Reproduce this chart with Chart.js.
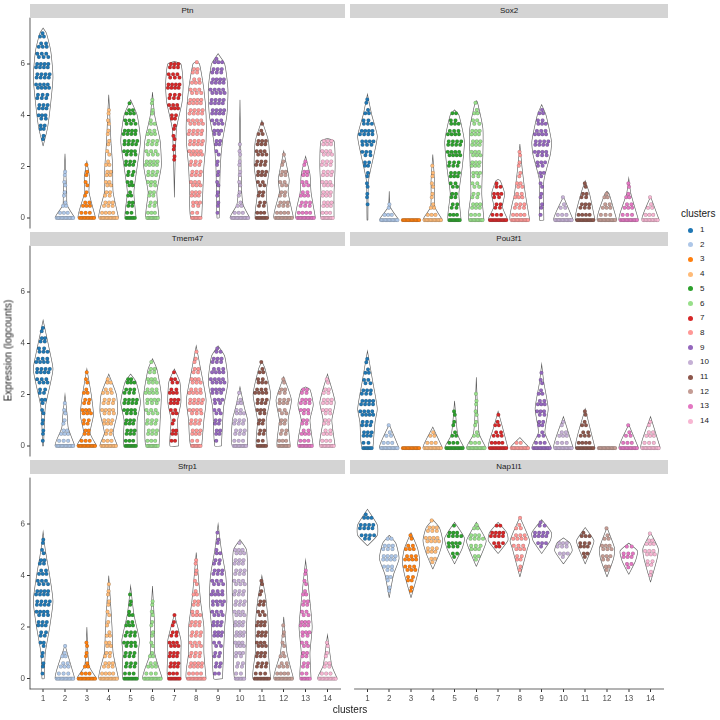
<!DOCTYPE html>
<html><head><meta charset="utf-8">
<script src="https://cdn.jsdelivr.net/npm/chart.js@4"></script>
<style>
body{margin:0;width:720px;height:720px;background:#fff;font-family:"Liberation Sans",Arial,sans-serif;position:relative;overflow:hidden}
canvas{position:absolute}
.strip{position:absolute;background:#d4d4d4;height:14px;font-size:8px;line-height:14px;text-align:center;color:#1a1a1a;z-index:2}
.lg{position:absolute;font-size:8px;color:#1a1a1a}
</style></head><body>
<script>
const clusters=['1','2','3','4','5','6','7','8','9','10','11','12','13','14'];
const colors=['#1f77b4','#aec7e8','#ff7f0e','#ffbb78','#2ca02c','#98df8a','#d62728','#ff9896','#9467bd','#c5b0d5','#8c564b','#c49c94','#e377c2','#f7b6d2'];
const yTicks=[0,2,4,6];
const genes=['Ptn','Sox2','Tmem47','Pou3f1','Sfrp1','Nap1l1'];
// violin profiles: per cluster list of [expression, half-width]
const ptn=[[[2.8,0],[3.5,.2],[4.5,.35],[5.5,.45],[6.5,.35],[7.2,.15],[7.4,0]],[[0,.45],[.5,.1],[1,.08],[2.5,0]],[[0,.4],[1,.1],[1.6,.12],[2.2,0]],[[0,.45],[1,.2],[2,.18],[3,.1],[4,.05],[4.8,0]],[[0,.25],[1,.15],[2,.3],[3,.45],[4,.3],[4.6,0]],[[0,.3],[1,.2],[2,.4],[3,.35],[4,.1],[4.9,0]],[[.8,0],[2,.03],[3.5,.1],[4.5,.35],[5.2,.4],[6,.3],[6.1,0]],[[0,.25],[1,.3],[2,.35],[3,.45],[4,.45],[5,.35],[6,.15],[6.1,0]],[[0,.05],[2,.1],[3,.2],[4,.4],[5,.45],[6,.3],[6.4,0]],[[0,.45],[.5,.15],[1,.08],[2,.05],[3.5,.02],[4.6,0]],[[0,.3],[1,.2],[2,.35],[3,.3],[3.8,0]],[[0,.45],[1,.2],[1.5,.25],[2.6,0]],[[0,.45],[1,.25],[1.7,.2],[2.4,0]],[[0,.3],[1,.3],[2,.35],[3,.3],[3.1,0]]];
const sox2=[[[0,.02],[1.5,.05],[2.5,.3],[3.2,.45],[4,.2],[4.8,0]],[[0,.45],[.5,.05],[1.1,0]],[[0,.45],[.03,0]],[[0,.45],[.5,.1],[1.5,.08],[2.5,0]],[[0,.3],[1,.2],[2,.35],[3,.45],[4,.2],[4.2,0]],[[0,.35],[1,.25],[2.5,.3],[3.5,.3],[4.5,.05],[4.55,0]],[[0,.45],[.5,.2],[1,.3],[1.5,.1],[1.55,0]],[[0,.45],[1,.25],[2,.1],[2.9,0]],[[0,.1],[1.5,.1],[2.5,.4],[3,.45],[4,.2],[4.4,0]],[[0,.45],[.9,0]],[[0,.45],[1,.2],[1.5,0]],[[0,.45],[1,.1],[1.1,0]],[[0,.45],[1,.1],[1.6,0]],[[0,.4],[.9,0]]];
const tmem47=[[[0,.02],[1.5,.1],[2.5,.35],[3,.45],[3.5,.35],[4.5,.1],[4.9,0]],[[0,.45],[.7,.15],[1.2,.1],[2,0]],[[0,.45],[.5,.15],[1.2,.3],[2,.2],[3,0]],[[0,.4],[.5,.2],[1.3,.4],[2,.35],[2.8,0]],[[0,.3],[1,.3],[1.7,.45],[2.5,.25],[2.8,0]],[[0,.3],[1,.35],[2,.4],[3,.2],[3.4,0]],[[0,.2],[1,.15],[1.7,.3],[2.5,.25],[3,0]],[[0,.25],[1,.35],[1.8,.45],[3,.2],[3.9,0]],[[0,.15],[1.5,.25],[2.5,.45],[3.5,.3],[3.9,0]],[[0,.35],[1,.35],[1.5,.2],[2.3,0]],[[0,.25],[1,.2],[2,.4],[3,.15],[3.3,0]],[[0,.3],[1,.2],[1.8,.35],[2.7,0]],[[0,.35],[1,.2],[1.6,.35],[2.2,.2],[2.3,0]],[[0,.35],[1,.2],[1.7,.35],[2.8,0]]];
const pou3f1=[[[0,.25],[1,.35],[1.5,.45],[2.5,.25],[3.7,0]],[[0,.45],[.9,0]],[[0,.45],[.03,0]],[[0,.45],[.8,0]],[[0,.45],[.5,.15],[1.8,0]],[[0,.45],[.5,.15],[1,.08],[2.7,0]],[[0,.45],[.8,.2],[1.4,0]],[[0,.45],[.4,0]],[[0,.45],[.6,.15],[1.5,.3],[2.5,.1],[3.2,0]],[[0,.45],[1.2,0]],[[0,.45],[1.5,0]],[[0,.45],[.03,0]],[[0,.45],[.9,0]],[[0,.45],[1.2,0]]];
const sfrp1=[[[0,.05],[1,.1],[2,.3],[3,.45],[4,.3],[5,.1],[5.7,0]],[[0,.45],[1.3,0]],[[0,.45],[.5,.1],[2,0]],[[0,.45],[1,.2],[2,.15],[3,.08],[4,0]],[[0,.35],[1,.35],[1.5,.4],[2.5,.15],[3.6,0]],[[0,.45],[1,.1],[2,.1],[3.6,0]],[[0,.3],[1,.3],[1.5,.3],[2.5,0]],[[0,.45],[1,.35],[2,.35],[3,.2],[4.9,0]],[[0,.2],[2,.3],[3,.4],[4,.35],[5,.15],[6,0]],[[0,.25],[2,.3],[3,.35],[4,.35],[5,.3],[5.4,0]],[[0,.4],[1,.3],[2,.3],[3,.2],[4,0]],[[0,.45],[1,.15],[2.4,0]],[[0,.25],[1,.2],[2,.3],[3,.2],[4.6,0]],[[0,.45],[.5,.2],[1.7,0]]];
const nap1l1=[[[5.1,0],[5.5,.45],[5.9,.45],[6.5,0]],[[3.1,0],[4,.2],[4.6,.45],[5.2,.3],[5.5,0]],[[3.1,0],[4,.3],[4.5,.4],[5,.3],[5.6,0]],[[4.2,0],[4.8,.3],[5.3,.45],[5.8,.3],[6.1,0]],[[4.4,0],[5,.35],[5.4,.45],[6,0]],[[4.3,0],[5,.35],[5.3,.45],[6,0]],[[4.8,0],[5.3,.45],[5.6,.4],[6,0]],[[3.9,0],[5,.35],[5.3,.45],[6.2,0]],[[4.8,0],[5.3,.4],[5.6,.45],[6.1,0]],[[4.4,0],[4.9,.4],[5.2,.3],[5.4,0]],[[4.4,0],[5,.3],[5.3,.4],[5.8,0]],[[3.9,0],[4.6,.3],[5,.35],[5.8,0]],[[4,0],[4.5,.3],[4.9,.4],[5.2,0]],[[3.7,0],[4.6,.3],[5,.35],[5.6,0]]];
const profiles=[ptn,sox2,tmem47,pou3f1,sfrp1,nap1l1];

function widthAt(p,y){for(let i=0;i<p.length-1;i++){if(y>=p[i][0]&&y<=p[i+1][0]){const t=(y-p[i][0])/(p[i+1][0]-p[i][0]||1);return p[i][1]+t*(p[i+1][1]-p[i][1]);}}return 0;}
function build(prof){
  const ds=[];
  prof.forEach((p,ci)=>{
    const c=ci+1;
    const outline=[];
    p.forEach(k=>outline.push({x:c+k[1],y:k[0]}));
    for(let i=p.length-1;i>=0;i--)outline.push({x:c-p[i][1],y:p[i][0]});
    outline.push({x:c+p[0][1],y:p[0][0]});
    ds.push({data:outline,showLine:true,borderColor:'#555',borderWidth:0.6,pointRadius:0,tension:0.2,fill:false,order:2});
    const pts=[];const y0=p[0][0],y1=p[p.length-1][0];
    if(y0===0&&p[0][1]>0.2){const w=p[0][1];const n=Math.round(w/0.035);for(let i=0;i<n;i++)pts.push({x:c+w*0.9*(2*((i+0.5)/n)-1),y:0});}
    let row=0;
    for(let y=(y0===0?0.2:y0);y<=y1+1e-9;y+=0.2,row++){
      const w=widthAt(p,y);if(w<0.03)continue;
      const n=Math.max(1,Math.round(w/0.11));
      const off=(row%3)/3;
      for(let i=0;i<n;i++){pts.push({x:c+w*0.85*(2*((i+0.2+off*0.6)/n)-1),y:y+(row%2)*0.07});}
    }
    ds.push({data:pts,pointRadius:1.8,pointBackgroundColor:colors[ci],pointBorderColor:'rgba(50,50,50,0.45)',pointBorderWidth:0.4,showLine:false,order:1});
  });
  return ds;
}
const panels=[[0,4],[1,4],[0,232],[1,232],[0,460],[1,460]];
panels.forEach((pp,gi)=>{
  const [col,top]=pp;const left=col===0;const bottom=gi>=4;
  const s=document.createElement('div');s.className='strip';
  s.style.left=(left?30:350)+'px';s.style.top=top+'px';s.style.width=(left?315:318)+'px';s.textContent=genes[gi];document.body.appendChild(s);
  const cv=document.createElement('canvas');
  const cl=left?0:350,cw=left?345:318,ch=bottom?240:224;
  cv.style.left=cl+'px';cv.style.top=(top+14-(bottom?3:7))+'px';cv.style.width=cw+'px';cv.style.height=ch+'px';
  cv.width=cw;cv.height=ch;document.body.appendChild(cv);
  new Chart(cv,{type:'scatter',data:{datasets:build(profiles[gi])},
   options:{responsive:false,animation:false,devicePixelRatio:2,layout:{padding:0},
    plugins:{legend:{display:false},tooltip:{enabled:false}},
    scales:{
     x:{type:'linear',min:0.4,max:14.6,display:bottom,afterFit:s=>{if(bottom)s.height=22},
        afterBuildTicks:s=>{s.ticks=clusters.map((c,i)=>({value:i+1}))},
        ticks:{callback:(v)=>clusters[v-1],font:{size:8,family:'Liberation Sans'},color:'#4d4d4d',padding:2,maxRotation:0,autoSkip:false},
        grid:{display:true,drawOnChartArea:false,tickLength:3,color:'#333'},border:{color:'#333',width:0.8}},
     y:{min:-0.4,max:7.8,display:left,afterFit:s=>{if(left)s.width=30},
        afterBuildTicks:s=>{s.ticks=yTicks.map(v=>({value:v}))},
        ticks:{font:{size:8,family:'Liberation Sans'},color:'#4d4d4d',padding:2},
        grid:{display:true,drawOnChartArea:false,tickLength:3,color:'#333'},border:{color:'#333',width:0.8}}
    }}});
});
const yt=document.createElement('div');yt.className='lg';yt.textContent='Expression (logcounts)';
yt.style.cssText+='font-size:10px;left:-47px;top:345px;width:110px;text-align:center;transform:rotate(-90deg)';document.body.appendChild(yt);
const xt=document.createElement('div');xt.className='lg';xt.textContent='clusters';
xt.style.cssText+='font-size:10px;left:300px;top:704px;width:100px;text-align:center';document.body.appendChild(xt);
const lt=document.createElement('div');lt.className='lg';lt.textContent='clusters';lt.style.cssText+='font-size:10px;left:681px;top:208px';document.body.appendChild(lt);
clusters.forEach((c,i)=>{
  const y=230+i*14.7;
  const d=document.createElement('div');d.style.cssText=`position:absolute;left:688px;top:${y-2.5}px;width:5px;height:5px;border-radius:50%;background:${colors[i]}`;document.body.appendChild(d);
  const t=document.createElement('div');t.className='lg';t.textContent=c;t.style.cssText+=`left:700px;top:${y-5}px`;document.body.appendChild(t);
});
</script>
</body></html>
